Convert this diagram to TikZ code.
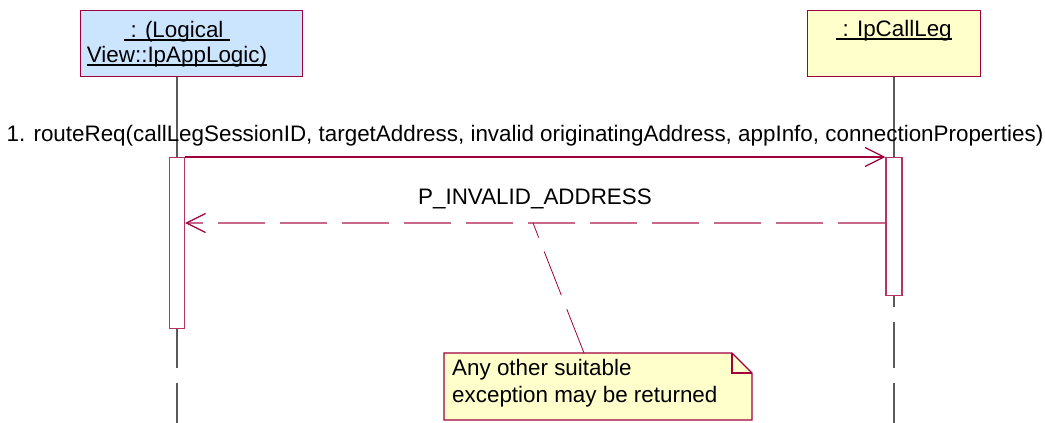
\documentclass[tikz,border=0pt]{standalone}
\usepackage{fontspec}
\setmainfont{Liberation Sans}
\usetikzlibrary{arrows.meta}
\definecolor{crimson}{RGB}{160,0,60}
\definecolor{pinkline}{RGB}{200,105,140}
\definecolor{actline}{RGB}{185,50,100}
\definecolor{objblue}{RGB}{204,229,255}
\definecolor{objyellow}{RGB}{255,255,204}
\definecolor{lifegray}{RGB}{90,90,90}
\newsavebox\ulbox
\newcommand\ulin[1]{\sbox\ulbox{#1}\rlap{\rule[-3.6pt]{\wd\ulbox}{1.2pt}}\usebox\ulbox}
\tikzset{
  objbox/.style={draw=crimson, line width=1.1pt, inner sep=0pt},
  actbox/.style={draw=actline, fill=white, line width=1.1pt, inner sep=0pt},
  txt/.style={inner sep=0pt, font=\fontsize{22.4}{26}\selectfont},
  lifeline/.style={draw=lifegray, line width=1.2pt},
  msgline/.style={draw=crimson, line width=1.2pt, -{Straight Barb[length=19pt,width=19pt,line width=1.3pt]}},
  retline/.style={draw=pinkline, line width=1.3pt, dash pattern=on 47pt off 15pt, -{Straight Barb[length=19pt,width=19pt,line width=1.3pt,color=crimson]}},
  notelink/.style={draw=crimson, line width=0.8pt, dash pattern=on 47pt off 15pt},
}
\begin{document}
\begin{tikzpicture}[x=1pt,y=-1pt]
\useasboundingbox (0,0) rectangle (1045,423);
\coordinate (bottom) at (0,423);
\coordinate (retY) at (0,223);
% objects
\node[objbox, fill=objblue, minimum width=222pt, minimum height=66pt, anchor=north west] (obj1) at (80,10) {};
\node[objbox, fill=objyellow, minimum width=173pt, minimum height=66pt, anchor=north west] (obj2) at (807,10) {};
\node[txt, anchor=base] (t1a) at (177,37) {\ulin{\ : (Logical\ }};
\node[txt, anchor=base] (t1b) at (177,62) {\ulin{View::IpAppLogic)}};
\node[txt, anchor=base] (t2) at (894,36) {\ulin{\ : IpCallLeg}};
% activation coordinates
\coordinate (a1top) at (177,157);
\coordinate (a2top) at (894,157);
% lifelines
\draw[lifeline] (a1top |- obj1.south) -- (a1top);
\draw[lifeline] (a2top |- obj2.south) -- (a2top);
% activations
\node[actbox, minimum width=15pt, minimum height=171pt, anchor=north] (act1) at (a1top) {};
\node[actbox, minimum width=16pt, minimum height=138pt, anchor=north] (act2) at (a2top) {};
\draw[lifeline, dash pattern=on 46pt off 15pt, dash phase=7pt] (act1.south) -- (act1.south |- bottom);
\draw[lifeline, dash pattern=on 46pt off 15pt, dash phase=35pt] (act2.south) -- (act2.south |- bottom);
% messages
\node[txt, anchor=base] (m1) at (525,141) {1. routeReq(callLegSessionID, targetAddress, invalid originatingAddress, appInfo, connectionProperties)};
\draw[msgline] (act1.north east) -- (act2.north west);
\node[txt, anchor=base] (m2) at (535,204) {P\_INVALID\_ADDRESS};
\draw[retline] (act2.west |- retY) -- (act1.east |- retY);
% note
\fill[objyellow] (444,353) -- (732,353) -- (752,373) -- (752,420) -- (444,420) -- cycle;
\draw[crimson, line width=1.1pt] (444,353) -- (732,353) -- (752,373) -- (752,420) -- (444,420) -- cycle;
\draw[crimson, line width=1.1pt] (732,353) -- (732,373) -- (752,373);
\node[txt, anchor=base west] (n1) at (452,375) {Any other suitable};
\node[txt, anchor=base west] (n2) at (452,402) {exception may be returned};
\coordinate (notetop) at (584,353);
\coordinate (retpt) at (533,223);
\draw[notelink] (notetop) -- (retpt);
\end{tikzpicture}
\end{document}
